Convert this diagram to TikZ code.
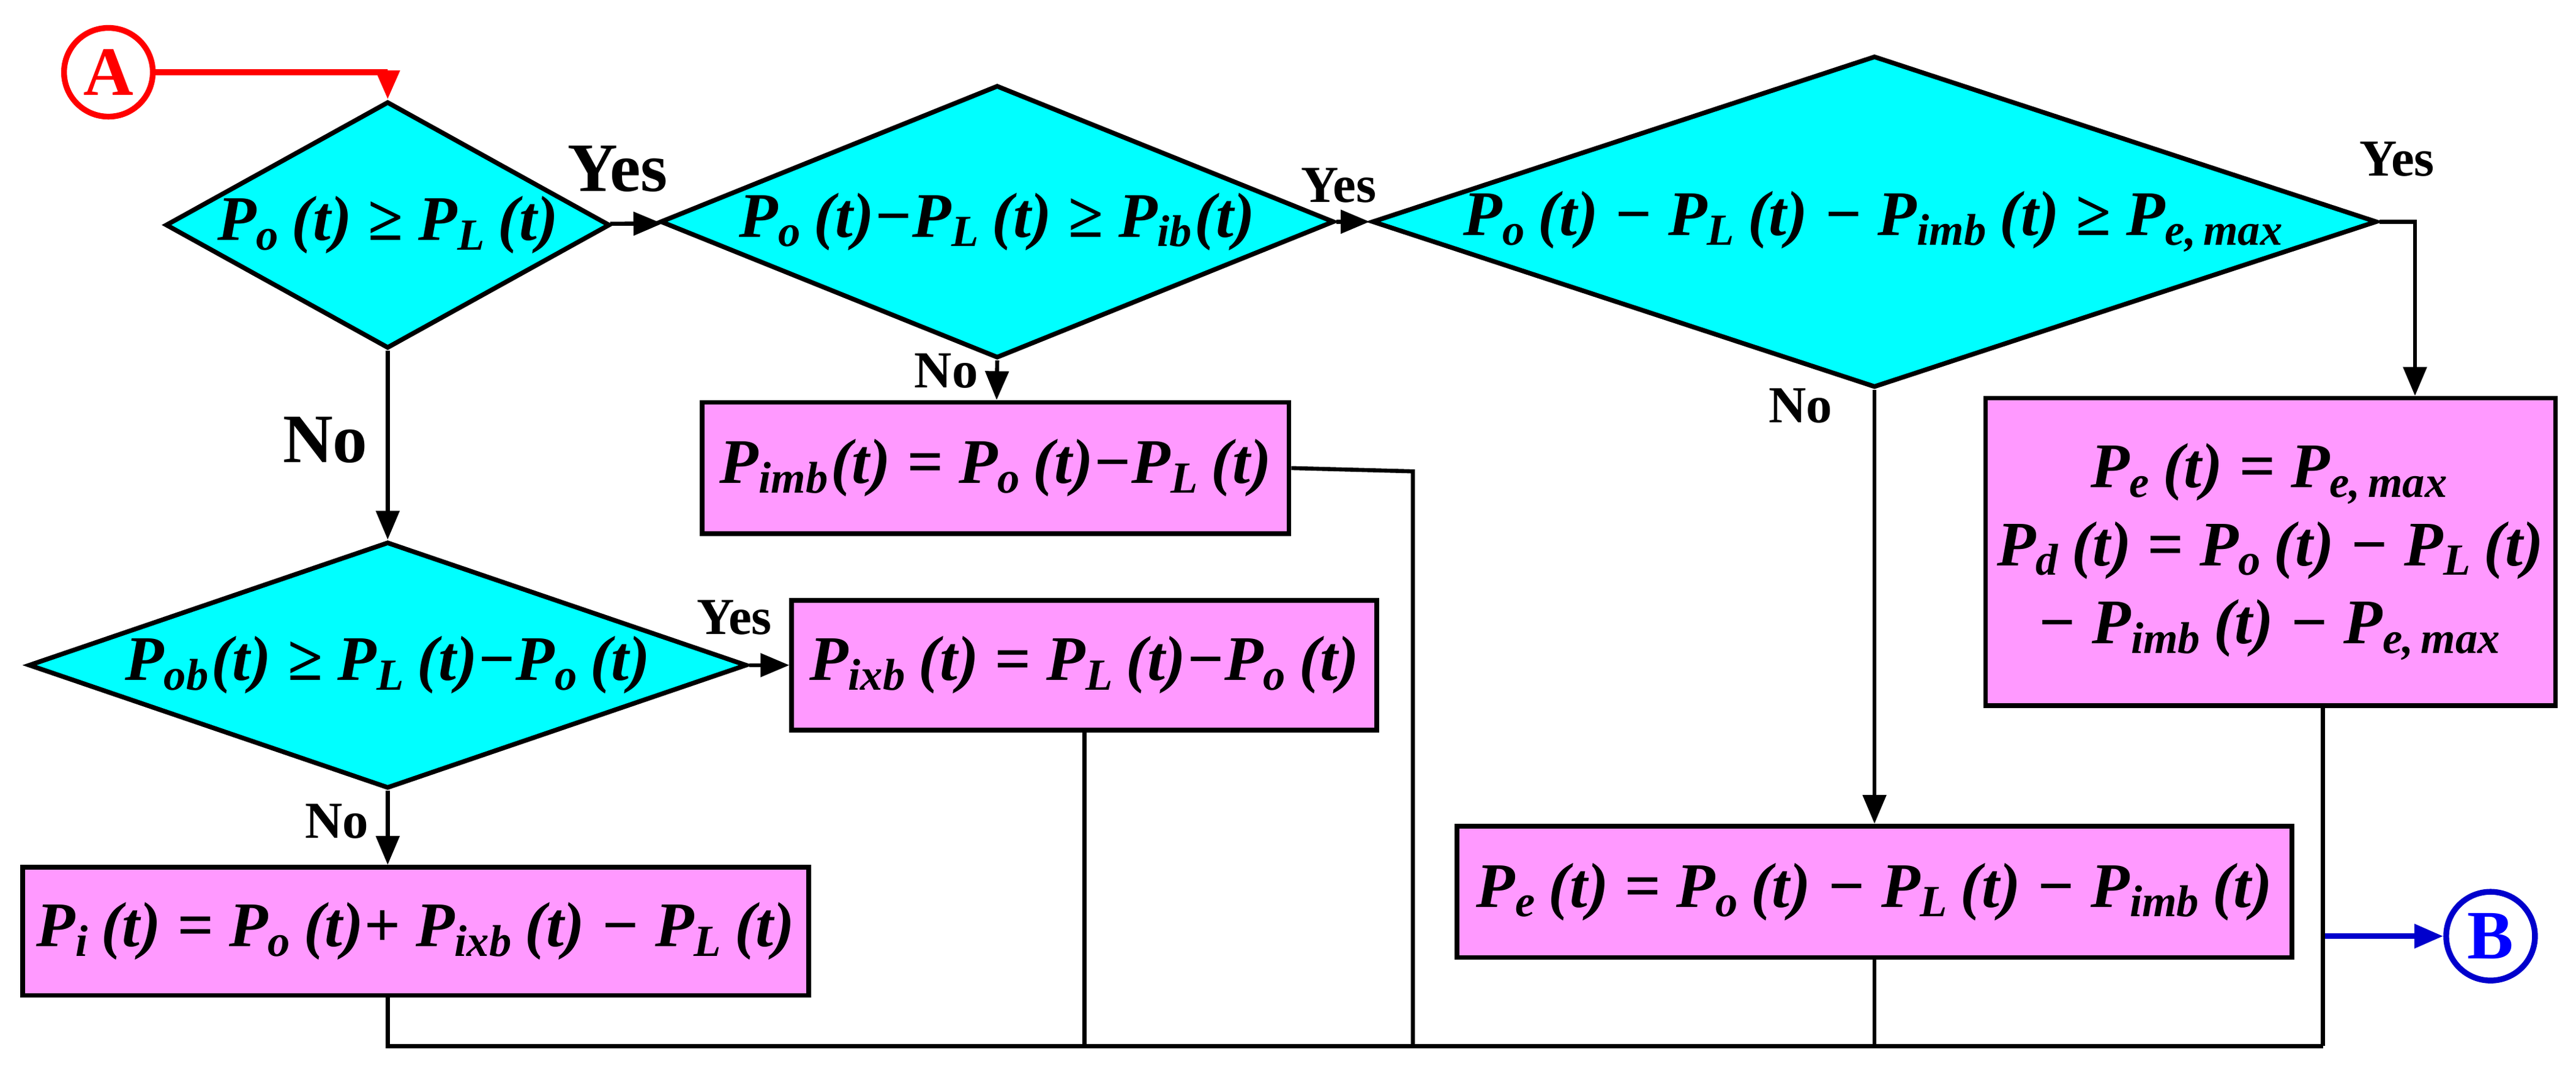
\documentclass[tikz,border=0pt]{standalone}
\usepackage{fontspec}
\setmainfont{Liberation Serif}
\usetikzlibrary{shapes.geometric,arrows.meta}
\definecolor{colordec}{RGB}{0,255,255}
\definecolor{colorbox}{RGB}{255,153,255}
\newcommand{\Pv}[1]{\textit{P}\textsubscript{\textit{#1}}}
\begin{document}
\begin{tikzpicture}[
    x=0.01cm, y=-0.01cm,
    font={\fontsize{11}{13.5}\selectfont\bfseries\itshape},
    dec/.style={diamond,draw=black,line width=0.8pt,fill=colordec,inner sep=0pt},
    blk/.style={rectangle,draw=black,line width=0.8pt,fill=colorbox,inner sep=2pt,align=center},
    lbl/.style={font={\fontsize{9}{10}\selectfont\bfseries}},
    lblbig/.style={font={\fontsize{12}{13}\selectfont\bfseries}},
    conn/.style={line width=0.7pt},
    arr/.style={conn,-{Triangle[length=5pt,width=4pt]}},
    term/.style={circle,line width=1pt,minimum size=0.54cm,inner sep=0pt,font={\fontsize{12}{13}\selectfont\bfseries}},
]
    \useasboundingbox (0,0) rectangle (1568,652);

    % Terminals
    \node[term,draw=red,text=red] (ta) at (66,44) {A};
    \node[term,draw=blue!80!black,text=blue] (tb) at (1516,570) {B};

    % Decisions
    \node[dec,aspect=1.8,minimum width=2.7cm,minimum height=1.5cm] (d1) at (236,137)
        {\Pv{o}\,(t) ≥ \Pv{L}\,(t)};
    \node[dec,aspect=2.47,minimum width=4.1cm,minimum height=1.66cm] (d2) at (607,135)
        {\Pv{o}\,(t)−\Pv{L}\,(t) ≥ \Pv{ib}(t)};
    \node[dec,aspect=3.03,minimum width=5.93cm,minimum height=1.96cm] (d3) at (1141,135)
        {\Pv{o}\,(t) − \Pv{L}\,(t) − \Pv{imb}\,(t) ≥ \Pv{e,\,max}};
    \node[dec,aspect=2.91,minimum width=4.37cm,minimum height=1.5cm] (d4) at (236,405)
        {\Pv{ob}(t) ≥ \Pv{L}\,(t)−\Pv{o}\,(t)};

    % Blocks
    \node[blk,minimum width=3.57cm,minimum height=0.8cm] (bimb) at (606,285)
        {\Pv{imb}(t) = \Pv{o}\,(t)−\Pv{L}\,(t)};
    \node[blk,minimum width=3.56cm,minimum height=0.79cm] (bixb) at (660,405)
        {\Pv{ixb}\,(t) = \Pv{L}\,(t)−\Pv{o}\,(t)};
    \node[blk,minimum width=3.36cm,minimum height=1.87cm] (bemax) at (1382,336)
        {\Pv{e}\,(t) = \Pv{e,\,max}\\ \Pv{d}\,(t) = \Pv{o}\,(t) − \Pv{L}\,(t)\\ − \Pv{imb}\,(t) − \Pv{e,\,max}};
    \node[blk,minimum width=5.08cm,minimum height=0.8cm] (be) at (1141,543)
        {\Pv{e}\,(t) = \Pv{o}\,(t) − \Pv{L}\,(t) − \Pv{imb}\,(t)};
    \node[blk,minimum width=4.78cm,minimum height=0.78cm] (bi) at (253,567)
        {\Pv{i}\,(t) = \Pv{o}\,(t)+ \Pv{ixb}\,(t) − \Pv{L}\,(t)};

    % Labels
    \node[lblbig] at (376,103) {Yes};
    \node[lblbig] at (198,268) {No};
    \node[lbl] at (815,113) {Yes};
    \node[lbl] at (576,226) {No};
    \node[lbl] at (1459,97) {Yes};
    \node[lbl] at (1096,247) {No};
    \node[lbl] at (447,376) {Yes};
    \node[lbl] at (205,500) {No};

    % Helper coordinates
    \coordinate (ca) at (236,44);
    \coordinate (cy) at (1470,135);
    \coordinate (cr) at (860,287);
    \coordinate (c1) at (236,637);
    \coordinate (c2) at (660,637);
    \coordinate (c3) at (860,637);
    \coordinate (c4) at (1141,637);
    \coordinate (c5) at (1414,637);
    \coordinate (cb) at (1414,570);

    % Arrows
    \draw[arr,draw=red,line width=1pt] (ta) -- (ca) -- (d1.north);
    \draw[arr] (d1) -- (d2);
    \draw[arr] (d2) -- (d3);
    \draw[arr] (d2.south) -- (bimb);
    \draw[arr] (d3.east) -- (cy) -- (bemax.north -| cy);
    \draw[arr] (d3.south) -- (be);
    \draw[arr] (d1.south) -- (d4.north);
    \draw[arr] (d4) -- (bixb);
    \draw[arr] (d4.south) -- (bi.north -| d4.south);
    \draw[arr,draw=blue!80!black,line width=1pt] (cb) -- (tb);

    % Return lines
    \draw[conn] (bimb.east) -- (cr) -- (c3);
    \draw[conn] (bixb.south) -- (c2);
    \draw[conn] (bemax.south -| c5) -- (c5);
    \draw[conn] (be.south) -- (c4);
    \draw[conn] (bi.south -| c1) -- (c1) -- (c5);
\end{tikzpicture}
\end{document}
